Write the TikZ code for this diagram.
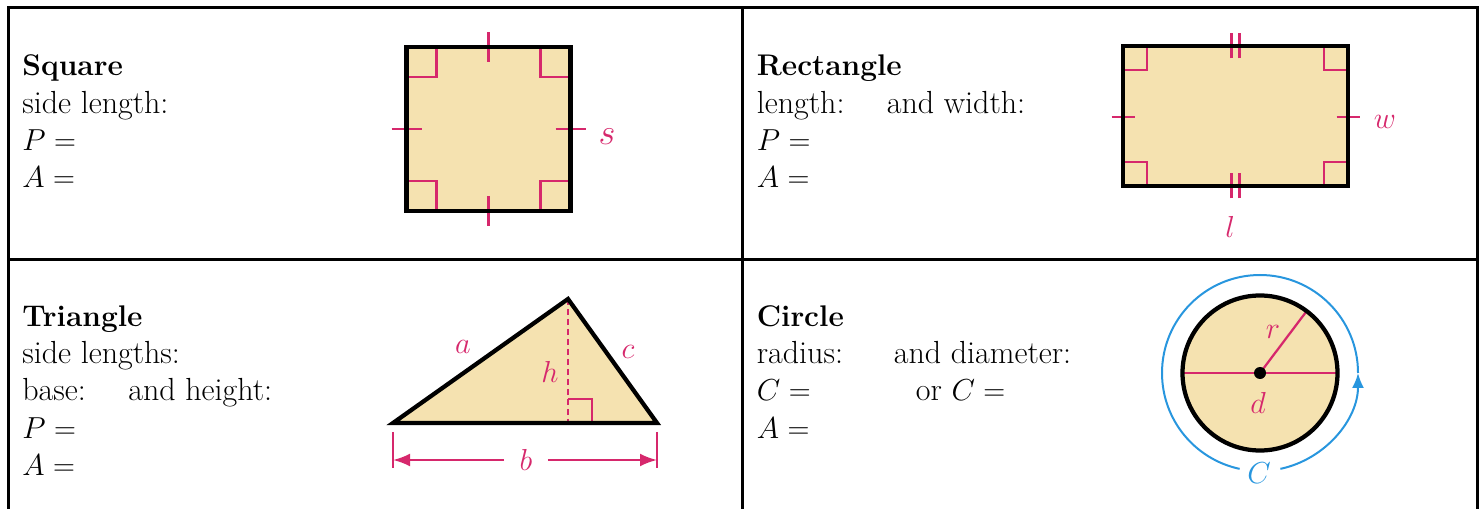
\documentclass[tikz,border=0pt]{standalone}
\usetikzlibrary{arrows.meta}
\definecolor{figtan}{RGB}{245,226,176}
\definecolor{figmag}{RGB}{214,40,108}
\definecolor{figblue}{RGB}{40,150,222}
\newcommand{\txtsize}{\fontsize{18.2}{21}\selectfont}
\newcommand{\headsize}{\fontsize{17}{20}\selectfont\bfseries}
\tikzset{
  tableline/.style={line width=0.06cm},
  figline/.style={draw=black, line width=0.085cm},
  pinkline/.style={draw=figmag, line width=0.045cm},
  blueline/.style={draw=figblue, line width=0.04cm},
  txt/.style={anchor=base west, inner sep=0pt, font=\txtsize},
  lbl/.style={text=figmag, inner sep=0pt, font=\fontsize{19}{21}\selectfont},
}

\begin{document}
\begin{tikzpicture}
    \useasboundingbox (0,0) rectangle (29.62,10.16);

    % table
    \draw[tableline] (0.16,-0.5) |- (29.54,10) -- (29.54,-0.5);
    \draw[tableline] (14.84,-0.5) -- (14.84,10);
    \draw[tableline] (0.16,4.96) -- (29.54,4.96);

    % square
    \node[txt] (sqname) at (0.44,8.64) {\headsize Square};
    \node[txt] (sqside) at (0.44,7.88) {side length:};
    \node[txt] (sqper) at (0.44,7.14) {$P =$};
    \node[txt] (sqarea) at (0.44,6.40) {$A =$};

    \fill[figtan] (8.13,5.94) rectangle (11.41,9.22);
    \draw[pinkline] (8.13,8.62) -| (8.73,9.22);
    \draw[pinkline] (11.41,8.62) -| (10.81,9.22);
    \draw[pinkline] (8.13,6.54) -| (8.73,5.94);
    \draw[pinkline] (11.41,6.54) -| (10.81,5.94);
    \draw[pinkline] (9.77,8.92) -- (9.77,9.52);
    \draw[pinkline] (9.77,5.64) -- (9.77,6.24);
    \draw[pinkline] (7.83,7.58) -- (8.43,7.58);
    \draw[pinkline] (11.11,7.58) -- (11.71,7.58);
    \draw[figline] (8.13,5.94) rectangle (11.41,9.22);
    \node[lbl, font=\fontsize{21}{23}\selectfont] (s) at (12.14,7.42) {$s$};

    % rectangle
    \node[txt] (rcname) at (15.13,8.64) {\headsize Rectangle};
    \node[txt] (rcside) at (15.13,7.88) {\makebox[2.6cm][l]{length:}and width:};
    \node[txt] (rcper) at (15.13,7.14) {$P =$};
    \node[txt] (rcarea) at (15.13,6.40) {$A =$};

    \fill[figtan] (22.46,6.44) rectangle (26.96,9.24);
    \draw[pinkline] (22.46,8.76) -| (22.94,9.24);
    \draw[pinkline] (26.96,8.76) -| (26.48,9.24);
    \draw[pinkline] (22.46,6.92) -| (22.94,6.44);
    \draw[pinkline] (26.96,6.92) -| (26.48,6.44);
    \draw[pinkline] (24.63,8.99) -- (24.63,9.49) (24.79,8.99) -- (24.79,9.49);
    \draw[pinkline] (24.63,6.19) -- (24.63,6.69) (24.79,6.19) -- (24.79,6.69);
    \draw[pinkline] (22.23,7.82) -- (22.69,7.82);
    \draw[pinkline] (26.73,7.82) -- (27.19,7.82);
    \draw[figline] (22.46,6.44) rectangle (26.96,9.24);
    \node[lbl] (w) at (27.7,7.72) {$w$};
    \node[lbl] (l) at (24.6,5.62) {$l$};

    % triangle
    \node[txt] (trname) at (0.44,3.62) {\headsize Triangle};
    \node[txt] (trside) at (0.44,2.88) {side lengths:};
    \node[txt] (trbase) at (0.44,2.14) {\makebox[2.12cm][l]{base:}and height:};
    \node[txt] (trper) at (0.44,1.40) {$P =$};
    \node[txt] (trarea) at (0.44,0.66) {$A =$};

    \coordinate (A) at (7.86,1.70);
    \coordinate (B) at (13.14,1.70);
    \coordinate (T) at (11.36,4.18);
    \coordinate (F) at (11.36,1.70);
    \fill[figtan] (A) -- (T) -- (B) -- cycle;
    \draw[pinkline, dash pattern=on 1.2mm off 0.8mm] (T) -- (F);
    \draw[pinkline] (F) ++(0,0.48) -- ++(0.48,0) -- ++(0,-0.48);
    \draw[figline] (A) -- (T) -- (B) -- cycle;
    \node[lbl] (a) at (9.26,3.22) {$a$};
    \node[lbl] (c) at (12.56,3.12) {$c$};
    \node[lbl] (h) at (11.0,2.72) {$h$};

    \draw[pinkline] (7.86,1.52) -- (7.86,0.80);
    \draw[pinkline] (13.14,1.52) -- (13.14,0.80);
    \coordinate (bl) at (7.86,0.96);
    \coordinate (br) at (13.14,0.96);
    \node[lbl, minimum width=0.86cm] (b) at (10.52,0.96) {$b$};
    \draw[pinkline, -{Latex[length=3.4mm,width=2.6mm]}] (b.west) -- (bl);
    \draw[pinkline, -{Latex[length=3.4mm,width=2.6mm]}] (b.east) -- (br);

    % circle
    \node[txt] (ciname) at (15.13,3.62) {\headsize Circle};
    \node[txt] (ciside) at (15.13,2.88) {\makebox[2.74cm][l]{radius:}and diameter:};
    \node[txt] (ciper) at (15.13,2.14) {\makebox[3.18cm][l]{$C =$}or $C =$};
    \node[txt] (ciarea) at (15.13,1.40) {$A =$};

    \coordinate (O) at (25.2,2.7);
    \fill[figtan] (O) circle (1.55);
    \draw[pinkline] (O) ++(180:1.55) -- ++(3.1,0);
    \draw[pinkline] (O) -- ++(53:1.55);
    \draw[figline] (O) circle (1.55);
    \node[circle, fill=black, inner sep=0pt, minimum size=0.24cm] (dot) at (O) {};
    \node[lbl] (r) at (25.46,3.52) {$r$};
    \node[lbl] (d) at (25.16,2.10) {$d$};

    \draw[blueline, -{Latex[length=3mm,width=2.4mm]}] (O) ++(-78:1.96) arc[start angle=-78, end angle=0, radius=1.96];
    \draw[blueline] (O) ++(0:1.96) arc[start angle=0, end angle=258, radius=1.96];
    \node[text=figblue, inner sep=0pt, font=\fontsize{19}{21}\selectfont] (C) at (25.18,0.70) {$C$};
\end{tikzpicture}
\end{document}
